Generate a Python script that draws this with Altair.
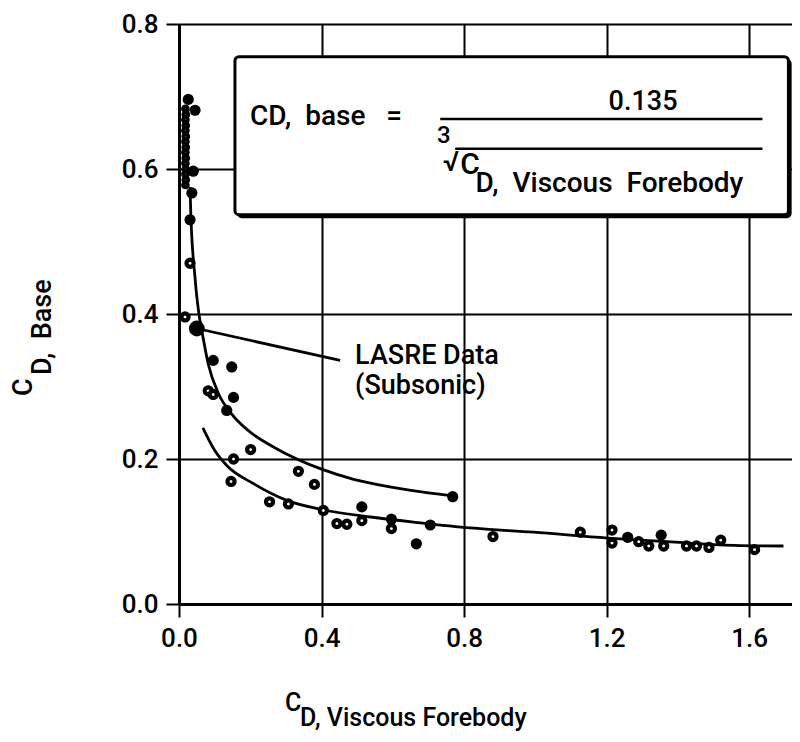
import altair as alt
import pandas as pd

# ---- data ----
open_x = [0.146, 0.153, 0.201, 0.254, 0.307, 0.335, 0.380, 0.405, 0.443, 0.471,
          0.513, 0.596, 0.881, 1.126, 1.215, 1.215, 1.290, 1.318, 1.360, 1.424,
          1.452, 1.487, 1.520, 1.615, 0.031, 0.017, 0.082, 0.096]
open_y = [0.169, 0.200, 0.213, 0.141, 0.138, 0.183, 0.165, 0.129, 0.111, 0.110,
          0.115, 0.104, 0.093, 0.099, 0.102, 0.084, 0.086, 0.080, 0.080, 0.080,
          0.080, 0.078, 0.088, 0.075, 0.470, 0.396, 0.294, 0.289]

column_x = [0.018, 0.019, 0.018, 0.019, 0.018, 0.019, 0.018, 0.019, 0.018, 0.019,
            0.018, 0.019, 0.018, 0.019, 0.018]
column_y = [0.578, 0.585, 0.593, 0.600, 0.608, 0.615, 0.623, 0.630, 0.638, 0.645,
            0.653, 0.660, 0.668, 0.675, 0.683]

filled_x = [0.026, 0.045, 0.040, 0.036, 0.031, 0.096, 0.148, 0.153, 0.134, 0.513,
            0.596, 0.705, 0.666, 0.768, 1.259, 1.353]
filled_y = [0.696, 0.681, 0.597, 0.567, 0.530, 0.336, 0.327, 0.285, 0.267, 0.134,
            0.117, 0.109, 0.083, 0.148, 0.092, 0.095]

big_x = [0.050]
big_y = [0.380]

upper_x = [0.031, 0.033, 0.045, 0.059, 0.064, 0.082, 0.111, 0.148, 0.195, 0.260,
           0.335, 0.400, 0.490, 0.600, 0.690, 0.771]
upper_y = [0.575, 0.540, 0.450, 0.390, 0.377, 0.331, 0.290, 0.262, 0.239, 0.218,
           0.199, 0.186, 0.172, 0.161, 0.154, 0.149]

lower_x = [0.067, 0.100, 0.134, 0.209, 0.302, 0.405, 0.537, 0.677, 0.817, 0.995,
           1.203, 1.370, 1.557, 1.696]
lower_y = [0.243, 0.212, 0.191, 0.166, 0.143, 0.130, 0.120, 0.112, 0.105, 0.099,
           0.091, 0.086, 0.081, 0.080]

x_ticks = [0.0, 0.4, 0.8, 1.2, 1.6]
y_ticks = [0.0, 0.2, 0.4, 0.6, 0.8]

FONT = "Roboto"
FW = 500
FS = 26
NB = "\u00a0"

xs = alt.Scale(domain=[0, 1.72], nice=False, zero=False)
ys = alt.Scale(domain=[0, 0.8], nice=False, zero=False)

common_axis = dict(format=".1f", title=None, grid=True, gridColor="black", gridWidth=2,
                   gridOpacity=1, domainColor="black", domainWidth=3, tickColor="black",
                   tickWidth=2, tickSize=13, labelFont=FONT, labelFontSize=FS,
                   labelFontWeight=FW, labelColor="black", labelPadding=8, labelFlush=False)
x_axis = alt.Axis(values=x_ticks, **common_axis)
y_axis = alt.Axis(values=y_ticks, **common_axis)


def X(f):
    return alt.X(f, type="quantitative", scale=xs, axis=x_axis)


def Y(f):
    return alt.Y(f, type="quantitative", scale=ys, axis=y_axis)


one = pd.DataFrame({"a": [0]})

upper = alt.Chart(pd.DataFrame({"x": upper_x, "y": upper_y})).mark_line(
    color="black", strokeWidth=2.8, interpolate="monotone").encode(x=X("x"), y=Y("y"))
lower = alt.Chart(pd.DataFrame({"x": lower_x, "y": lower_y})).mark_line(
    color="black", strokeWidth=2.8, interpolate="monotone").encode(x=X("x"), y=Y("y"))

col = alt.Chart(pd.DataFrame({"x": column_x, "y": column_y})).mark_point(
    shape="circle", filled=True, fill="white", stroke="black", strokeWidth=4, size=22, opacity=1).encode(x=X("x"), y=Y("y"))
opens = alt.Chart(pd.DataFrame({"x": open_x, "y": open_y})).mark_point(
    shape="circle", filled=True, fill="white", stroke="black", strokeWidth=4.2, size=50, opacity=1).encode(x=X("x"), y=Y("y"))
fills = alt.Chart(pd.DataFrame({"x": filled_x, "y": filled_y})).mark_point(
    shape="circle", filled=True, color="black", size=125, opacity=1).encode(x=X("x"), y=Y("y"))
big = alt.Chart(pd.DataFrame({"x": big_x, "y": big_y})).mark_point(
    shape="circle", filled=True, color="black", size=250, opacity=1).encode(x=X("x"), y=Y("y"))

# annotation box with the formula (with a slight drop shadow)
shadow = alt.Chart(one).mark_rect(fill="black", cornerRadius=5).encode(
    x=alt.datum(0.163, scale=xs), x2=alt.datum(1.719), y=alt.datum(0.752, scale=ys), y2=alt.datum(0.532))
box = alt.Chart(one).mark_rect(fill="white", stroke="black", strokeWidth=3, cornerRadius=4).encode(
    x=alt.datum(0.157, scale=xs), x2=alt.datum(1.710), y=alt.datum(0.755, scale=ys), y2=alt.datum(0.537))


def txt(s, x, y, size=FS, align="left", baseline="middle"):
    return alt.Chart(one).mark_text(text=s, font=FONT, fontSize=size, fontWeight=FW, align=align,
                                    baseline=baseline, color="black").encode(
        x=alt.datum(x, scale=xs), y=alt.datum(y, scale=ys))


def hrule(x1, x2, y, w=2.5):
    return alt.Chart(one).mark_rule(color="black", strokeWidth=w).encode(
        x=alt.datum(x1, scale=xs), x2=alt.datum(x2), y=alt.datum(y, scale=ys))


formula = [
    txt("CD," + NB + NB + "base" + NB + NB + NB + "=", 0.199, 0.672, size=28),
    txt("0.135", 1.302, 0.693, size=27, align="center"),
    hrule(0.733, 1.637, 0.669),
    hrule(0.775, 1.637, 0.628),
    txt("3", 0.743, 0.645, size=24, align="center"),
    txt("√", 0.763, 0.608, size=28, align="center"),
    txt("C", 0.789, 0.606, size=30),
    txt("D," + NB + NB + "Viscous" + NB + NB + "Forebody", 0.832, 0.580, size=28),
]

leader = alt.Chart(one).mark_rule(color="black", strokeWidth=2.8).encode(
    x=alt.datum(0.05, scale=xs), y=alt.datum(0.38, scale=ys), x2=alt.datum(0.452), y2=alt.datum(0.336))
lasre = [txt("LASRE" + NB + "Data", 0.494, 0.342, size=27),
         txt("(Subsonic)", 0.494, 0.301, size=27)]


def ptxt(s, x, y, angle=0, size=FS):
    return alt.Chart(one).mark_text(text=s, font=FONT, fontSize=size, fontWeight=FW, align="left",
                                    baseline="middle", color="black", angle=angle).encode(
        x=alt.value(x), y=alt.value(y))


titles = [
    ptxt("C", 106, 679, size=25),
    ptxt("D," + NB + "Viscous" + NB + "Forebody", 121, 694, size=25),
    ptxt("C", -155, 372, angle=270, size=27),
    ptxt("D," + NB + NB + "Base", -136, 351, angle=270, size=27),
]

chart = alt.layer(
    upper, lower, leader, col, opens, fills, big, shadow, box, *formula, *lasre, *titles
).properties(
    width=613, height=580,
    autosize=alt.AutoSizeParams(type="none"),
    padding={"left": 171, "top": 16, "right": 0, "bottom": 134},
).configure_view(stroke=None)

chart.save("out.html", embed_options={"renderer": "svg", "actions": False})
